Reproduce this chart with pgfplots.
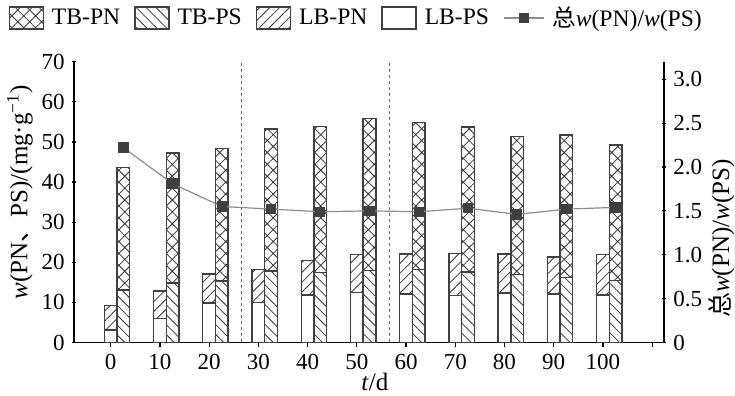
\documentclass[border=0pt]{standalone}
\usepackage{pgfplots}
\pgfplotsset{compat=1.18}
\usepackage{pgfplotstable}
\usetikzlibrary{patterns.meta}
\usepackage{fontspec}
\setmainfont{Liberation Serif}
\newfontfamily\cjk{Noto Sans CJK SC}

\pgfplotstableread{
x  xr     lbps lbtot tbps tbtot ratio
0  0.258  3.1  9.2   13.1 43.6  2.22
1  1.258  6.0  12.8  14.8 47.2  1.81
2  2.258  9.8  17.1  15.3 48.4  1.55
3  3.258  10.0 18.2  17.8 53.2  1.52
4  4.258  11.8 20.4  17.5 53.9  1.49
5  5.258  12.5 22.0  18.0 55.9  1.50
6  6.258  12.1 22.1  18.2 54.8  1.49
7  7.258  11.7 22.2  17.6 53.7  1.53
8  8.258  12.3 22.1  17.0 51.4  1.46
9  9.258  12.1 21.3  16.2 51.7  1.52
10 10.258 11.8 21.9  15.4 49.2  1.54
}\data

\pgfplotsset{
  barlegend/.style={legend image code/.code={\draw[##1] (0pt,-5.5pt) rectangle (17pt,5.5pt);}},
  common/.style={
    scale only axis, width=295pt, height=140.4pt,
    xmin=-0.745, xmax=11.24,
    tick align=inside, major tick length=2.3pt,
    tick style={black, line width=0.6pt},
    /pgf/number format/assume math mode=true,
    tick label style={font=\fontsize{11.5}{13}\selectfont},
  },
}

\begin{document}
\begin{tikzpicture}
\begin{axis}[
  common,
  ymin=0, ymax=70,
  axis x line=bottom, axis y line=left,
  axis line style={-, line width=0.7pt},
  ytick={0,10,...,70},
  xtick={0,...,11},
  xticklabels={0,10,20,30,40,50,60,70,80,90,100,{}},
  ybar, bar width=0.258,
  ylabel={\textit{w}(PN{\cjk 、}PS)/(mg·g\textsuperscript{−1})},
  xlabel={\textit{t}/d},
  ylabel style={at={(axis description cs:-0.0915,0.535)}, anchor=center, font=\fontsize{12.5}{14}\selectfont},
  xlabel style={at={(axis description cs:0.51,-0.1407)}, anchor=center, font=\fontsize{12.5}{14}\selectfont},
  legend columns=5,
  legend style={draw=none, at={(0.48,1)}, anchor=center, yshift=21.85pt,
    font=\fontsize{11.8}{14}\selectfont,
    /tikz/every odd column/.append style={column sep=2pt},
    /tikz/every even column/.append style={column sep=5pt}},
]
\addplot[barlegend, draw=black!75, line width=0.7pt, fill=white,
  postaction={pattern={Hatch[angle=45,distance=4.2pt,line width=0.4pt]}, pattern color=black!80},
  bar shift=0.258] table[x=x,y=tbtot]{\data};
\addlegendentry{TB-PN}
\addplot[barlegend, draw=black!75, line width=0.7pt, fill=white,
  postaction={pattern={Lines[angle=-45,distance=3.5pt,line width=0.4pt]}, pattern color=black!80},
  bar shift=0.258] table[x=x,y=tbps]{\data};
\addlegendentry{TB-PS}
\addplot[barlegend, draw=black!75, line width=0.7pt, fill=white,
  postaction={pattern={Lines[angle=45,distance=3.5pt,line width=0.4pt]}, pattern color=black!80},
  bar shift=0] table[x=x,y=lbtot]{\data};
\addlegendentry{LB-PN}
\addplot[barlegend, draw=black!75, line width=0.7pt, fill=white,
  bar shift=0] table[x=x,y=lbps]{\data};
\addlegendentry{LB-PS}
\addlegendimage{legend image code/.code={\draw[black!45, line width=0.6pt] (0pt,0pt) -- (20pt,0pt); \fill[black!75] (10pt,0pt) ++(-2.3pt,-2.3pt) rectangle ++(4.6pt,4.6pt);}}
\addlegendentry{{\cjk 总}\textit{w}(PN)/\textit{w}(PS)}
\addplot[sharp plot, black!60, dash pattern=on 1.5pt off 1.5pt, line width=0.4pt, forget plot] coordinates {(2.65,0) (2.65,70)};
\addplot[sharp plot, black!60, dash pattern=on 1.5pt off 1.5pt, line width=0.4pt, forget plot] coordinates {(5.67,0) (5.67,70)};
\end{axis}
\begin{axis}[
  common,
  ymin=0, ymax=3.2,
  axis y line=right, axis x line=none,
  axis line style={-, line width=0.7pt},
  ytick={0,0.5,...,3.0},
  yticklabels={0,0.5,1.0,1.5,2.0,2.5,3.0},
  ylabel={{\cjk 总}\textit{w}(PN)/\textit{w}(PS)},
  ylabel style={at={(axis description cs:1.097,0.37)}, anchor=center, font=\fontsize{12.5}{14}\selectfont},
]
\addplot[black!45, line width=0.6pt, mark=square*, mark size=2.3pt,
  mark options={fill=black!75, draw=black!75}] table[x=xr, y=ratio]{\data};
\end{axis}
\pgfresetboundingbox
\useasboundingbox (-37pt,-26.75pt) rectangle (330.5pt,171.25pt);
\end{tikzpicture}
\end{document}
